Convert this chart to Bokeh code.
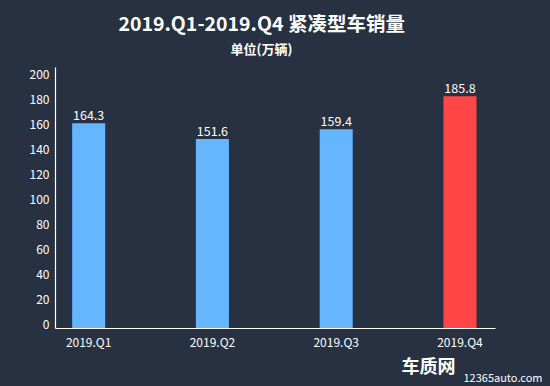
from bokeh.plotting import figure
from bokeh.models import FixedTicker, Range1d, ColumnDataSource, LinearAxis, Title
from bokeh.core.properties import value
from bokeh.embed import file_html
from bokeh.resources import INLINE

categories = ["2019.Q1", "2019.Q2", "2019.Q3", "2019.Q4"]
sales = [164.3, 151.6, 159.4, 185.8]
bar_colors = ["#66b5ff", "#66b5ff", "#66b5ff", "#ff4545"]
y_ticks = [0, 20, 40, 60, 80, 100, 120, 140, 160, 180, 200]
title_text = "2019.Q1-2019.Q4 紧凑型车销量"
subtitle_text = "单位(万辆)"
brand_text = "车质网"
site_text = "12365auto.com"

BG = "#283142"
FONT = "Noto Sans CJK SC"

xs = list(range(1, len(categories) + 1))
src = ColumnDataSource(dict(x=xs, y=sales, color=bar_colors,
                            label=[f"{v:.1f}" for v in sales]))

p = figure(width=550, height=386, output_backend="svg", toolbar_location=None,
           x_range=Range1d(0.732, 4.287), y_range=Range1d(0, 208.8),
           min_border_left=55, min_border_right=55, min_border_top=67,
           min_border_bottom=58)
p.background_fill_color = BG
p.background_fill_alpha = 0
p.border_fill_color = BG
p.outline_line_color = None
p.grid.visible = False

p.vbar(x="x", top="y", width=0.267, bottom=0, fill_color="color",
       line_color=None, source=src)
p.text(x="x", y="y", text="label", source=src, text_align="center",
       text_baseline="bottom", y_offset=-3, text_color="white",
       text_font=value(FONT), text_font_size="12.5px")

# y labels sit slightly above their tick positions in the reference
p.extra_y_ranges = {"lab": Range1d(-3.6, 205.2)}
p.yaxis.visible = False
yax = LinearAxis(y_range_name="lab", ticker=FixedTicker(ticks=y_ticks))
p.add_layout(yax, "left")

for ax in (p.xaxis[0], yax):
    ax.axis_line_color = "white"
    ax.axis_line_width = 1.2
    ax.major_tick_line_color = None
    ax.minor_tick_line_color = None
    ax.major_tick_out = 0
    ax.major_tick_in = 0
    ax.minor_tick_out = 0
    ax.minor_tick_in = 0
    ax.major_label_text_color = "white"
    ax.major_label_text_font = FONT
    ax.major_label_text_font_size = "12px"

p.xaxis.ticker = FixedTicker(ticks=xs)
p.xaxis.major_label_overrides = {x: c for x, c in zip(xs, categories)}
p.xaxis.major_label_standoff = 4
yax.major_label_standoff = 6

p.add_layout(Title(text=subtitle_text, align="left", offset=175, text_color="white",
                   text_font=FONT, text_font_size="13px", text_font_style="bold",
                   standoff=19), "above")
p.add_layout(Title(text=title_text, align="left", offset=63, text_color="white",
                   text_font=FONT, text_font_size="19.5px", text_font_style="bold",
                   standoff=-19), "above")

# watermark below the x labels
p.add_layout(Title(text=brand_text, align="right", offset=40, text_color="white",
                   text_font=FONT, text_font_size="18px", text_font_style="bold",
                   standoff=-5.5), "below")
p.add_layout(Title(text=site_text, align="right", offset=-47, text_color="white",
                   text_font=FONT, text_font_size="11px", text_font_style="normal",
                   standoff=-17), "below")

html = file_html(p, INLINE)
html = html.replace("<head>", "<head><style>html,body{background:%s;}</style>" % BG, 1)
open("out.html", "w").write(html)
